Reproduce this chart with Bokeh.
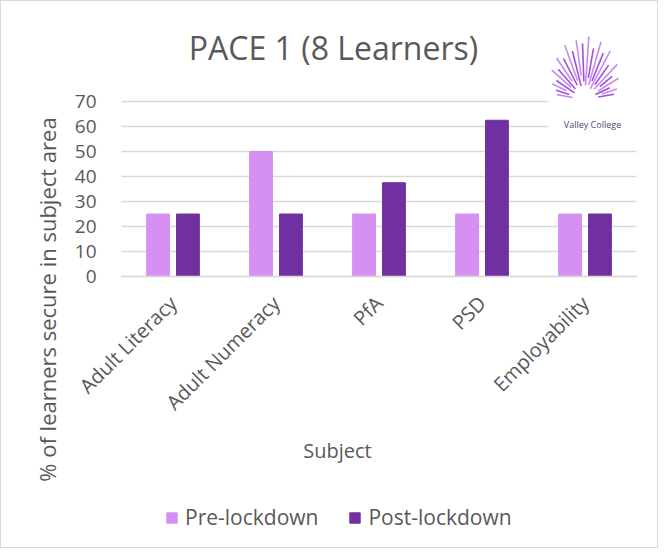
import math
from bokeh.plotting import figure
from bokeh.models import (Range1d, FixedTicker, Label, Legend, LegendItem, ColumnDataSource)
from bokeh.transform import dodge
from bokeh.embed import file_html
from bokeh.resources import INLINE

# ---- data ----
subjects = ["Adult Literacy", "Adult Numeracy", "PfA", "PSD", "Employability"]
pre_lockdown = [25, 50, 25, 25, 25]
post_lockdown = [25, 25, 37.5, 62.5, 25]
y_ticks = [0, 10, 20, 30, 40, 50, 60, 70]

title_text = "PACE 1 (8 Learners)"
x_title = "Subject"
y_title = "% of learners secure in subject area"
series_names = ["Pre-lockdown", "Post-lockdown"]
pre_color = "#d590f2"
post_color = "#7030a0"
text_color = "#595959"
grid_color = "#d9d9d9"
FONT = "Open Sans"

# ---- layout (page pixels; figure starts at page 8,8) ----
W, H = 658, 548
page_left, page_top = 8, 8
page_right, page_bottom = 8 + W, 8 + H
plot_l, plot_r = 128, 643      # plot area in page px
axis_y = 283                   # page y of value 0
px_per_unit = 2.5
cat_px = (plot_r - plot_l) / len(subjects)


def xpx(px):
    # page x pixel -> x data coordinate (category i centred on i)
    return (px - plot_l) / cat_px - 0.5


x_pos = list(range(len(subjects)))
y_start = -(page_bottom - axis_y) / px_per_unit
y_end = (axis_y - page_top) / px_per_unit

source = ColumnDataSource(dict(x=x_pos, subject=subjects, pre=pre_lockdown, post=post_lockdown))

p = figure(width=W, height=H, output_backend="svg", toolbar_location=None,
           x_range=Range1d(xpx(page_left), xpx(page_right)),
           y_range=Range1d(y_start, y_end),
           min_border_left=0, min_border_right=0, min_border_top=0, min_border_bottom=0)
p.styles = {"border": "1.5px solid #d9d9d9"}
p.outline_line_color = None
p.background_fill_color = "white"
p.border_fill_color = "white"

# pixel y range for decoration
p.extra_y_ranges = {"px": Range1d(page_bottom, page_top)}

r_pre = p.vbar(x=dodge("x", -0.145), top="pre", bottom=0, width=0.222,
               source=source, fill_color=pre_color, line_color=pre_color)
r_post = p.vbar(x=dodge("x", 0.145), top="post", bottom=0, width=0.222,
                source=source, fill_color=post_color, line_color=post_color)

x_lo, x_hi = -0.5, len(subjects) - 0.5

# axes
p.xgrid.grid_line_color = None
p.yaxis.ticker = FixedTicker(ticks=y_ticks)
p.yaxis.fixed_location = x_lo
p.yaxis.axis_line_color = None
p.yaxis.major_tick_line_color = None
p.yaxis.minor_tick_line_color = None
p.yaxis.major_label_text_font = FONT
p.yaxis.major_label_text_font_size = "19px"
p.yaxis.major_label_text_color = text_color
p.yaxis.major_label_standoff = 19

try:
    p.ygrid.cross_bounds = (x_lo, x_hi)
    p.ygrid.grid_line_color = grid_color
    p.ygrid.grid_line_width = 1.5
except AttributeError:
    p.ygrid.grid_line_color = None
    p.segment(x0=[x_lo] * len(y_ticks), x1=[x_hi] * len(y_ticks), y0=y_ticks, y1=y_ticks,
              line_color=grid_color, line_width=1.5, level="underlay")

p.xaxis.ticker = FixedTicker(ticks=x_pos)
p.xaxis.major_label_overrides = {i: s for i, s in zip(x_pos, subjects)}
p.xaxis.fixed_location = 0
p.xaxis.bounds = (x_lo, x_hi)
p.xaxis.axis_line_color = grid_color
p.xaxis.axis_line_width = 1.5
p.xaxis.major_tick_line_color = None
p.xaxis.minor_tick_line_color = None
p.xaxis.major_label_orientation = math.pi / 4
p.xaxis.major_label_text_font = FONT
p.xaxis.major_label_text_font_size = "20px"
p.xaxis.major_label_text_color = text_color
p.xaxis.major_label_standoff = 17

# logo background (covers gridlines)
p.quad(left=[xpx(555)], right=[xpx(plot_r + 10)], top=[15], bottom=[143],
       y_range_name="px", fill_color="white", line_color=None)

# logo rays (decoration)
cx, cy = 591, 106
angles = [10, 18, 25, 32, 40, 47, 55, 62, 68, 74, 80, 86, 92, 98, 104, 110, 117, 124, 131, 138, 146, 154, 162, 170]
outer = [30, 34, 28, 40, 36, 48, 42, 55, 50, 60, 52, 63, 56, 60, 50, 58, 46, 50, 40, 44, 34, 36, 30, 28]
inner = [14, 18, 12, 16, 20, 14, 18, 12, 20, 15, 22, 14, 18, 24, 14, 20, 16, 22, 14, 18, 12, 20, 16, 12]
x0 = [xpx(cx + r * math.cos(math.radians(a))) for a, r in zip(angles, inner)]
y0 = [cy - r * math.sin(math.radians(a)) for a, r in zip(angles, inner)]
x1 = [xpx(cx + r * math.cos(math.radians(a))) for a, r in zip(angles, outer)]
y1 = [cy - r * math.sin(math.radians(a)) for a, r in zip(angles, outer)]
cols = ["#a050dc" if i % 2 == 0 else "#c58cf0" for i in range(len(angles))]
p.segment(x0=x0, y0=y0, x1=x1, y1=y1, color=cols, line_width=1.6, y_range_name="px")
p.add_layout(Label(x=xpx(599), y=131, text="Valley College", y_range_name="px",
                   text_font=FONT, text_font_size="9px", text_color="#4a4a6a",
                   text_align="center", text_baseline="middle"))

# titles
p.add_layout(Label(x=xpx(340), y=54, text=title_text, y_range_name="px",
                   text_font=FONT, text_font_size="32px", text_color=text_color,
                   text_align="center", text_baseline="middle"))
p.add_layout(Label(x=xpx(344), y=457, text=x_title, y_range_name="px",
                   text_font=FONT, text_font_size="20px", text_color=text_color,
                   text_align="center", text_baseline="middle"))
p.add_layout(Label(x=xpx(53), y=306, text=y_title, y_range_name="px", angle=math.pi / 2,
                   text_font=FONT, text_font_size="22px", text_color=text_color,
                   text_align="center", text_baseline="middle"))

legend = Legend(items=[LegendItem(label=series_names[0], renderers=[r_pre]),
                       LegendItem(label=series_names[1], renderers=[r_post])],
                orientation="horizontal", location=(172 - page_left, page_bottom - 538),
                glyph_width=13, glyph_height=13, label_text_font=FONT,
                label_text_font_size="21px", label_text_color=text_color,
                border_line_color=None, background_fill_alpha=0, spacing=30,
                padding=0, margin=0, label_standoff=7)
p.add_layout(legend, "center")

open("out.html", "w").write(file_html(p, INLINE))
